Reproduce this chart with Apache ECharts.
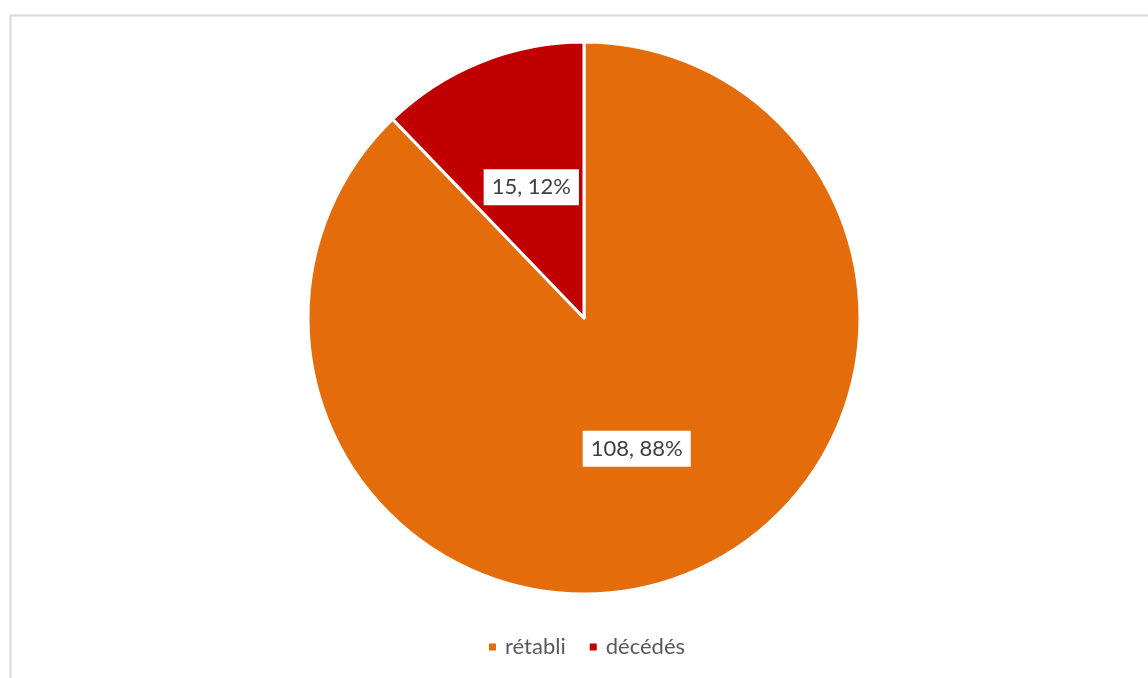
<!DOCTYPE html>
<html>
<head>
<meta charset="utf-8">
<script src="https://cdn.jsdelivr.net/npm/echarts@6/dist/echarts.min.js"></script>
<style>
  html, body { margin: 0; padding: 0; background: #fff; }
  #chart { width: 1148px; height: 678px; }
</style>
</head>
<body>
<div id="chart"></div>
<script>
// Patient outcome breakdown
const categories = ['rétabli', 'décédés'];
const counts = [108, 15];
const colors = ['#E46C0A', '#C00000'];

const total = counts.reduce((a, b) => a + b, 0);
const pieData = categories.map((name, i) => ({
  name,
  value: counts[i],
  itemStyle: { color: colors[i] }
}));

const chart = echarts.init(document.getElementById('chart'), null, { renderer: 'canvas' });
chart.setOption({
  animation: false,
  backgroundColor: '#ffffff',
  graphic: [{
    type: 'rect',
    left: 8, top: 13,
    shape: { width: 1160, height: 700 },
    style: { fill: 'none', stroke: '#d9d9d9', lineWidth: 2 },
    silent: true
  }],
  legend: {
    bottom: 15,
    left: 482,
    icon: 'rect',
    itemWidth: 9,
    itemHeight: 9,
    itemGap: 22,
    textStyle: {
      fontFamily: 'Lato, "Open Sans", sans-serif',
      fontSize: 22,
      color: '#595959',
      padding: [0, 0, 0, 3]
    },
    data: categories
  },
  series: [{
    type: 'pie',
    center: [584, 318],
    radius: [0, 276],
    startAngle: 90,
    clockwise: true,
    itemStyle: { borderColor: '#ffffff', borderWidth: 3 },
    label: {
      show: true,
      position: 'inside',
      formatter: p => p.value + ', ' + Math.round(p.value / total * 100) + '%',
      fontFamily: 'Lato, "Open Sans", sans-serif',
      fontSize: 22,
      color: '#404040',
      backgroundColor: '#ffffff',
      padding: [7, 8, 7, 8]
    },
    labelLine: { show: false },
    emphasis: { disabled: true },
    data: pieData
  }]
});
</script>
</body>
</html>
